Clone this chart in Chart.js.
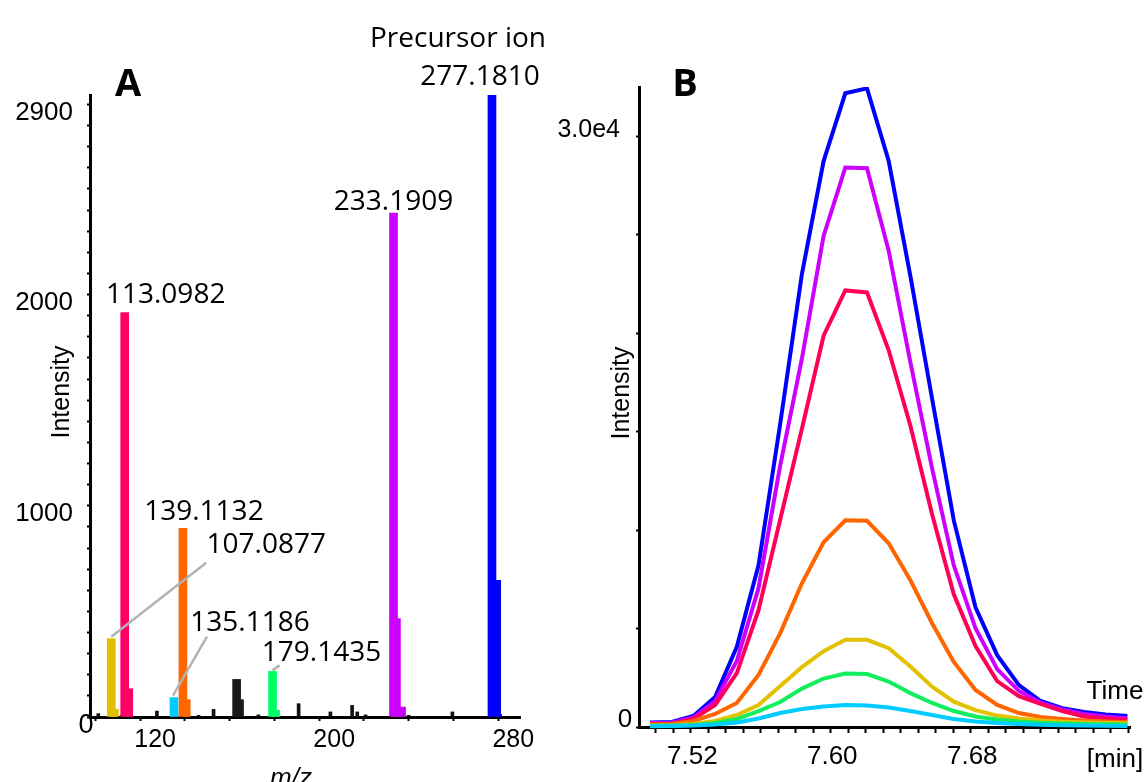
<!DOCTYPE html>
<html>
<head>
<meta charset="utf-8">
<script src="https://cdn.jsdelivr.net/npm/chart.js@4.4.1/dist/chart.umd.min.js"></script>
<style>
  html, body { margin: 0; padding: 0; background: #fff; }
  #wrap { position: relative; width: 1148px; height: 782px; overflow: hidden; }
  .panel { position: absolute; left: 0; top: 0; width: 1148px; height: 782px; }
</style>
</head>
<body>
<div id="wrap">
  <div class="panel"><canvas id="ms2"></canvas></div>
  <div class="panel"><canvas id="xic"></canvas></div>
</div>
<script>
// ---------- Panel A: MS/MS spectrum of the precursor at m/z 277.1810 ----------
const fragmentMz        = [277.1810, 233.1909, 113.0982, 139.1132, 107.0877, 179.1435, 135.1186, 163.10];
const fragmentIntensity = [2945, 2386, 1915, 893, 371, 216, 92, 178];
const fragmentLabels    = ['277.1810', '233.1909', '113.0982', '139.1132', '107.0877', '179.1435', '135.1186', ''];

// isotope shoulders next to the main fragments (index of the parent fragment)
const isotopeMz        = [279.3, 234.5, 236.8, 114.9, 140.6, 108.5, 180.5, 164.4];
const isotopeIntensity = [647, 466, 47, 134, 82, 36, 32, 82];
const isotopeParent    = [0, 1, 1, 2, 3, 4, 5, 7];

// low-level background peaks
const noiseMz        = [101.3, 111.8, 127.5, 146.1, 152.8, 172.8, 190.8, 205.0, 214.7, 217.0, 220.7, 240.0, 259.5, 280.8];
const noiseIntensity = [16, 8, 28, 8, 36, 10, 63, 24, 55, 24, 10, 8, 24, 12];

const mzTickLabels        = [120, 200, 280];
const intensityTickLabels = [1000, 2000, 2900];

// ---------- Panel B: extracted ion chromatograms of the fragments ----------
const retentionTime = [7.4867, 7.4991, 7.5115, 7.5239, 7.5363, 7.5487, 7.5611, 7.5735, 7.5859, 7.5983, 7.6107, 7.6231,
                       7.6355, 7.6479, 7.6603, 7.6727, 7.6851, 7.6975, 7.7099, 7.7223, 7.7347, 7.7471, 7.7595];
const xic277 = [228, 253, 557, 1520, 4070, 8210, 15400, 23000, 28740, 32180, 32430, 28740, 22900, 16670, 10490, 6080, 3650, 2130, 1320, 960, 760, 630, 560];
const xic233 = [200, 215, 480, 1320, 3350, 7050, 13280, 18710, 24940, 28410, 28380, 24180, 18520, 13130, 8210, 5020, 2940, 1830, 1240, 890, 660, 530, 440];
const xic113 = [150, 160, 410, 1120, 2740, 5930, 10540, 15150, 19870, 22170, 22070, 19130, 15300, 10800, 6740, 4110, 2330, 1570, 1170, 810, 530, 430, 355];
const xic139 = [127, 152, 304, 660, 1220, 2640, 4770, 7300, 9380, 10500, 10470, 9330, 7450, 5270, 3300, 1880, 1120, 710, 510, 410, 330, 280, 240];
const xic107 = [76, 86, 152, 304, 608, 1115, 2080, 3040, 3850, 4430, 4430, 4000, 3070, 2050, 1290, 860, 580, 430, 330, 270, 230, 200, 190];
const xic179 = [61, 71, 101, 203, 406, 811, 1270, 1950, 2460, 2720, 2690, 2310, 1720, 1220, 811, 532, 380, 280, 213, 177, 152, 137, 127];
const xic135 = [35, 51, 76, 127, 228, 431, 710, 913, 1040, 1115, 1090, 989, 811, 608, 406, 279, 203, 152, 112, 91, 76, 66, 51];
const timeTickLabels = ['7.52', '7.60', '7.68'];

// ---------- styling ----------
const fragmentColors = ['#0000ff', '#cc00ff', '#ff0066', '#ff6600', '#dfc000', '#00ff66', '#00ccff', '#1a1a1a'];
const TICK_FONT = 'Liberation Sans';
const LABEL_FONT = 'Open Sans';

// where each m/z annotation sits relative to the top of its bar (px)
const labelPlacement = {
  '277.1810': { dx: -12, dy: -10 },
  '233.1909': { dx: 0,   dy: -3 },
  '113.0982': { dx: 41,  dy: -10 },
  '139.1132': { dx: 21,  dy: -8 },
  '107.0877': { dx: 155, dy: -86, leader: [0, -2, 95, -76] },
  '179.1435': { dx: 49,  dy: -10, leader: [0, -1, 7, -6] },
  '135.1186': { dx: 76,  dy: -67, leader: [-1, -2, 33, -61] }
};

const baseOptions = {
  responsive: true,
  maintainAspectRatio: false,
  animation: false,
  events: [],
  plugins: { legend: { display: false }, tooltip: { enabled: false } }
};

// ---------- annotations for panel A ----------
const ms2Annotations = {
  id: 'ms2Annotations',
  afterDraw(chart) {
    const { ctx, scales: { x, y } } = chart;
    ctx.save();
    ctx.fillStyle = '#000';
    ctx.textAlign = 'center';
    ctx.textBaseline = 'alphabetic';

    // leader lines and m/z labels
    fragmentLabels.forEach((lab, i) => {
      if (!lab) return;
      const px = x.getPixelForValue(fragmentMz[i]);
      const py = y.getPixelForValue(fragmentIntensity[i]);
      const p = labelPlacement[lab];
      if (p.leader) {
        ctx.strokeStyle = '#b3b3b3';
        ctx.lineWidth = 2.5;
        ctx.beginPath();
        ctx.moveTo(px + p.leader[0], py + p.leader[1]);
        ctx.lineTo(px + p.leader[2], py + p.leader[3]);
        ctx.stroke();
      }
      ctx.font = `28px "${LABEL_FONT}"`;
      ctx.fillText(lab, px + p.dx, py + p.dy);
      if (i === 0) {
        ctx.fillText('Precursor ion', px - 34, py - 48);
      }
    });

    // zero of the intensity axis
    ctx.font = `27px "${TICK_FONT}"`;
    ctx.textBaseline = 'middle';
    ctx.fillText('0', x.left - 4, y.getPixelForValue(0) + 9);

    // axis titles
    ctx.font = `25px "${TICK_FONT}"`;
    ctx.save();
    ctx.translate(62, 392);
    ctx.rotate(-Math.PI / 2);
    ctx.fillText('Intensity', 0, 0);
    ctx.restore();
    ctx.font = `italic 26px "${TICK_FONT}"`;
    ctx.textBaseline = 'alphabetic';
    ctx.fillText('m/z', 291, 786);

    // panel letter
    ctx.font = `bold 38px "${LABEL_FONT}"`;
    ctx.fillText('A', 128, 96);
    ctx.restore();
  }
};

new Chart(document.getElementById('ms2'), {
  type: 'bar',
  data: {
    datasets: [
      {
        data: fragmentMz.map((m, i) => ({ x: m, y: fragmentIntensity[i] })),
        backgroundColor: fragmentColors,
        barThickness: 8
      },
      {
        data: isotopeMz.map((m, i) => ({ x: m, y: isotopeIntensity[i] })),
        backgroundColor: isotopeParent.map(p => fragmentColors[p]),
        barThickness: 8
      },
      {
        data: noiseMz.map((m, i) => ({ x: m, y: noiseIntensity[i] })),
        backgroundColor: '#111',
        barThickness: 3
      }
    ]
  },
  options: {
    ...baseOptions,
    layout: { padding: { left: 0, top: 95, right: 628, bottom: 0 } },
    datasets: { bar: { grouped: false, borderWidth: 0 } },
    scales: {
      x: {
        type: 'linear', min: 97.6, max: 289.7, offset: false,
        grid: { offset: false, drawOnChartArea: false, drawTicks: true, tickLength: 4, tickColor: '#000', tickWidth: 2 },
        border: { display: true, color: '#000', width: 3 },
        ticks: {
          stepSize: 20, autoSkip: false, includeBounds: false, maxRotation: 0, minRotation: 0,
          labelOffset: 15, padding: 4, color: '#000',
          font: { family: TICK_FONT, size: 25, lineHeight: 1.2 },
          callback: v => (mzTickLabels.includes(Math.round(v)) ? String(Math.round(v)) : '')
        },
        afterFit: s => { s.height = 65; }
      },
      y: {
        min: 0, max: 2945,
        grid: { drawOnChartArea: false, drawTicks: true, tickLength: 3, tickColor: '#000', tickWidth: 2 },
        border: { display: true, color: '#000', width: 3 },
        ticks: {
          stepSize: 100, autoSkip: false, includeBounds: false,
          labelOffset: 8, padding: 14, color: '#000',
          font: { family: TICK_FONT, size: 26, lineHeight: 1.2 },
          callback: v => (intensityTickLabels.includes(Math.round(v)) ? String(Math.round(v)) : '')
        },
        afterFit: s => { s.width = 90; }
      }
    }
  },
  plugins: [ms2Annotations]
});

// ---------- annotations for panel B ----------
const xicAnnotations = {
  id: 'xicAnnotations',
  afterDraw(chart) {
    const { ctx, scales: { x, y } } = chart;
    ctx.save();
    ctx.fillStyle = '#000';
    ctx.textAlign = 'center';
    ctx.textBaseline = 'middle';
    ctx.font = `26px "${TICK_FONT}"`;
    ctx.fillText('0', x.left - 14, y.getPixelForValue(0) - 7);
    ctx.fillText('Time', 1115, 692);
    ctx.fillText('[min]', 1115, 760);
    ctx.save();
    ctx.translate(622, 393);
    ctx.rotate(-Math.PI / 2);
    ctx.font = `25px "${TICK_FONT}"`;
    ctx.fillText('Intensity', 0, 0);
    ctx.restore();
    ctx.textBaseline = 'alphabetic';
    ctx.font = `bold 38px "${LABEL_FONT}"`;
    ctx.fillText('B', 685, 96);
    ctx.restore();
  }
};

const xicSeries = [
  { values: xic135, color: '#00ccff' },
  { values: xic179, color: '#12ee5e' },
  { values: xic107, color: '#e2c100' },
  { values: xic139, color: '#ff6600' },
  { values: xic113, color: '#ff0058' },
  { values: xic233, color: '#cc00ff' },
  { values: xic277, color: '#0000ff' }
];

new Chart(document.getElementById('xic'), {
  type: 'line',
  data: {
    datasets: xicSeries.map(s => ({
      data: retentionTime.map((t, i) => ({ x: t, y: s.values[i] })),
      borderColor: s.color,
      borderWidth: 4,
      pointRadius: 0,
      tension: 0,
      fill: false
    }))
  },
  options: {
    ...baseOptions,
    layout: { padding: { left: 0, top: 87, right: 18, bottom: 0 } },
    scales: {
      x: {
        type: 'linear', min: 7.4804, max: 7.761,
        grid: { drawOnChartArea: false, drawTicks: true, tickLength: 6, tickColor: '#000', tickWidth: 2 },
        border: { display: true, color: '#000', width: 3 },
        ticks: {
          stepSize: 0.01, autoSkip: false, includeBounds: false, maxRotation: 0, minRotation: 0,
          labelOffset: -16, padding: 8, color: '#000',
          font: { family: TICK_FONT, size: 26, lineHeight: 1.2 },
          callback: v => {
            const s = v.toFixed(2);
            return timeTickLabels.includes(s) ? s : '';
          }
        },
        afterFit: s => { s.height = 55; }
      },
      y: {
        beginAtZero: true, max: 32500,
        grid: { drawOnChartArea: false, drawTicks: true, tickLength: 3, tickColor: '#000', tickWidth: 2 },
        border: { display: true, color: '#000', width: 3 },
        ticks: {
          stepSize: 5000, autoSkip: false, includeBounds: false,
          labelOffset: -6, padding: 16, color: '#000',
          font: { family: TICK_FONT, size: 25, lineHeight: 1.2 },
          callback: v => (v === 30000 ? '3.0e4' : '')
        },
        afterFit: s => { s.width = 639; }
      }
    }
  },
  plugins: [xicAnnotations]
});
</script>
</body>
</html>
